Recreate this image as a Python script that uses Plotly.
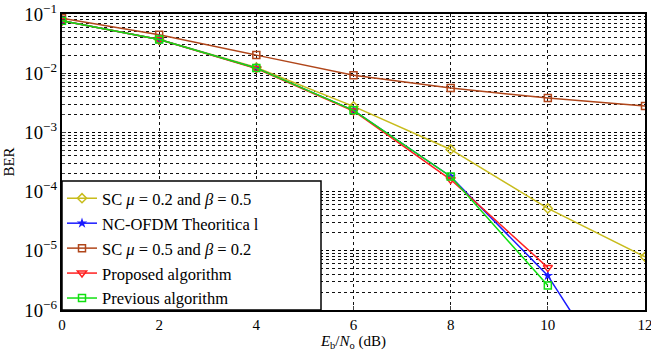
import plotly.graph_objects as go

x_full = [0, 2, 4, 6, 8, 10, 12]
x_short = [0, 2, 4, 6, 8, 10]

sc_02_05 = [0.077, 0.037, 0.0125, 0.00275, 5.15e-4, 5.2e-5, 7.9e-6]
nc_ofdm_theory = [0.077, 0.037, 0.0122, 0.00236, 1.8e-4, 3.8e-6, 1.05e-8]
sc_05_02 = [0.085, 0.0447, 0.0202, 0.00925, 0.0056, 0.0038, 0.0028]
proposed = [0.077, 0.037, 0.0120, 0.0023, 1.6e-4, 5.2e-6]
previous = [0.077, 0.037, 0.0122, 0.00236, 1.8e-4, 2.6e-6]

names = [
    "SC <i>μ</i> = 0.2 and <i>β</i> = 0.5",
    "NC-OFDM Theoritica l",
    "SC <i>μ</i> = 0.5 and <i>β</i> = 0.2",
    "Proposed algorithm",
    "Previous algorithm",
]

FONT = "Liberation Serif, Times New Roman, serif"

W, H = 651, 352
ML, MR, MT, MB = 62, 6, 14, 42
PW, PH = W - ML - MR, H - MT - MB

fig = go.Figure()
fig.add_trace(go.Scatter(x=x_full, y=sc_02_05, name=names[0], mode="lines+markers", legendrank=1, legendgroup="a",
                         line=dict(color="#c8bc1c", width=1.5),
                         marker=dict(symbol="diamond-open", size=7, color="#c8bc1c", line=dict(width=1.5))))
fig.add_trace(go.Scatter(x=x_full, y=sc_05_02, name=names[2], mode="lines+markers", legendrank=3, legendgroup="c",
                         line=dict(color="#b0461a", width=1.5),
                         marker=dict(symbol="square-open", size=7, color="#b0461a", line=dict(width=1.5))))
fig.add_trace(go.Scatter(x=x_full, y=nc_ofdm_theory, name=names[1], mode="lines+markers", legendrank=2, legendgroup="b",
                         line=dict(color="#1a1aff", width=1.5),
                         marker=dict(symbol="star", size=8, color="#1a1aff")))
fig.add_trace(go.Scatter(x=x_short, y=proposed, name=names[3], mode="lines+markers", legendrank=4, legendgroup="d",
                         line=dict(color="#ff2020", width=1.5),
                         marker=dict(symbol="triangle-down-open", size=8, color="#ff2020", line=dict(width=1.5))))
fig.add_trace(go.Scatter(x=x_short, y=previous, name=names[4], mode="lines+markers", legendrank=5, legendgroup="e",
                         line=dict(color="#10e010", width=1.5),
                         marker=dict(symbol="square-open", size=7, color="#10e010", line=dict(width=1.5))))

# legend box (white, black frame) covering lines below legend
fig.add_shape(type="rect", xref="paper", yref="paper", x0=0, x1=259 / PW, y0=0, y1=129 / PH,
              fillcolor="white", line=dict(color="black", width=1.5), layer="above")

fig.update_layout(
    width=W, height=H,
    margin=dict(l=ML, r=MR, t=MT, b=MB, autoexpand=False),
    paper_bgcolor="white", plot_bgcolor="white",
    font=dict(family=FONT, size=15, color="black"),
    showlegend=True,
    legend=dict(x=0, y=-6 / PH, xanchor="left", yanchor="bottom",
                bgcolor="rgba(0,0,0,0)", borderwidth=0,
                font=dict(family=FONT, size=16.5), itemwidth=30, tracegroupgap=0.5),
    xaxis=dict(range=[0, 12], dtick=2, showline=True, linecolor="black", linewidth=2, mirror=True,
               showgrid=True, gridcolor="#111", griddash="dot", gridwidth=1, automargin=False,
               ticks="inside", ticklen=4, zeroline=False, ticklabeloverflow="allow",
               title=dict(text="<i>E</i><sub>b</sub>/<i>N</i><sub>o</sub> (dB)", standoff=0,
                          font=dict(family=FONT, size=15))),
    yaxis=dict(type="log", range=[-6, -1], dtick=1, exponentformat="power",
               showline=True, linecolor="black", linewidth=2, mirror=True, automargin=False,
               showgrid=True, gridcolor="#000", griddash="dot", gridwidth=1.2,
               ticks="inside", ticklen=4, ticklabeloverflow="allow",
               minor=dict(dtick="D1", showgrid=True, gridcolor="#111", griddash="dot", ticks="inside", ticklen=3),
               title=dict(text="BER", standoff=6, font=dict(family=FONT, size=15))),
)

fig.write_html("out.html", config={"displayModeBar": False},
               post_script="document.body.style.margin='0';")
